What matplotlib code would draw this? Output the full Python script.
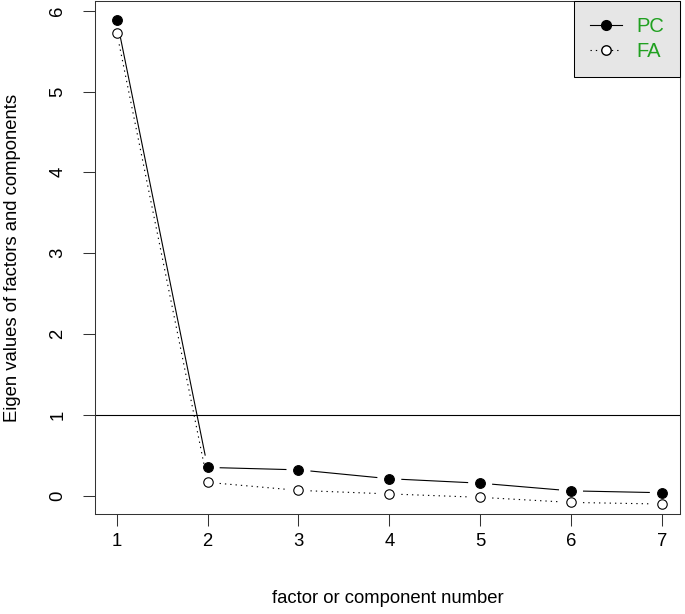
import numpy as np
import matplotlib
matplotlib.use("Agg")
import matplotlib.pyplot as plt
from matplotlib.lines import Line2D

plt.rcParams['font.family'] = ['Liberation Sans', 'DejaVu Sans']

# values
factor_num = [1, 2, 3, 4, 5, 6, 7]
pc_eigen = [5.89, 0.35, 0.32, 0.21, 0.155, 0.06, 0.037]
fa_eigen = [5.73, 0.165, 0.066, 0.022, -0.02, -0.083, -0.103]
legend_labels = ['PC', 'FA']

fig = plt.figure(figsize=(6.85, 6.14), dpi=100)
ax = fig.add_axes([95 / 685, (614 - 514.3) / 614, 585 / 685, 513.3 / 614])
ax.set_xlim(0.76, 7.2)
ax.set_ylim(-0.23, 6.12)


def gapped(x, y, gap_px=12, **kw):
    # R type="b": segments stop short of each point
    pts = ax.transData.transform(np.column_stack([x, y]))
    for p0, p1 in zip(pts[:-1], pts[1:]):
        d = p1 - p0
        L = np.hypot(*d)
        if L <= 2 * gap_px:
            continue
        u = d / L
        a = ax.transData.inverted().transform(p0 + u * gap_px)
        b = ax.transData.inverted().transform(p1 - u * gap_px)
        ax.plot([a[0], b[0]], [a[1], b[1]], **kw)


gapped(factor_num, pc_eigen, color='black', lw=0.8, solid_capstyle='butt')
gapped(factor_num, fa_eigen, color='black', lw=0.8, dashes=(1.2, 3.6))
ax.plot(factor_num, pc_eigen, 'o', ms=7, mfc='black', mec='black', mew=0.8, ls='none')
ax.plot(factor_num, fa_eigen, 'o', ms=6.8, mfc='white', mec='black', mew=0.8, ls='none')

ax.axhline(1, color='black', lw=0.8)

ax.set_xticks(factor_num)
ax.set_yticks(range(0, 7))
ax.tick_params(direction='out', length=8.6, width=0.75, labelsize=13.3, color='#333333')
ax.tick_params(axis='x', pad=5)
ax.tick_params(axis='y', pad=12)
for lab in ax.get_yticklabels():
    lab.set_rotation(90)
    lab.set_va('center')
for s in ax.spines.values():
    s.set_linewidth(0.75)
    s.set_color('#333333')

ax.set_xlabel('factor or component number', fontsize=13.3)
ax.xaxis.set_label_coords(0.5, -0.148)
ax.set_ylabel('Eigen values of factors and components', fontsize=13.3)
ax.yaxis.set_label_coords(-0.127, 0.5)

handles = [Line2D([], [], color='black', lw=0.8, marker='o', ms=7, mfc='black', mec='black'),
           Line2D([], [], color='black', lw=0.8, dashes=(1.2, 3.6), marker='o', ms=6.8,
                  mfc='white', mec='black')]
leg = ax.legend(handles, legend_labels, loc='upper right', borderaxespad=0, fontsize=14.5,
                fancybox=False, framealpha=1, facecolor='#e6e6e6', edgecolor='black',
                handlelength=1.6, handletextpad=0.7, labelspacing=0.3, borderpad=0.8,
                labelcolor='#20a020')
leg.get_frame().set_linewidth(0.75)

fig.savefig('out.png', dpi=100)
